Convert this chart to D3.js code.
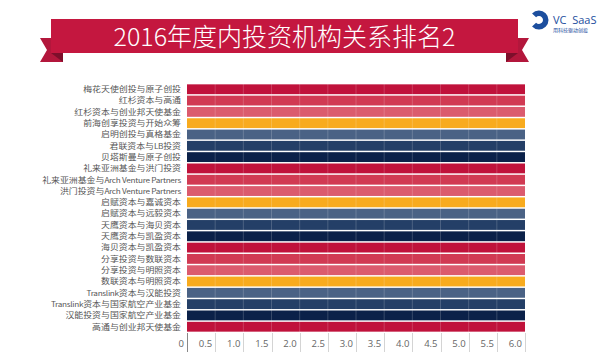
<!DOCTYPE html>
<html><head><meta charset="utf-8">
<script src="https://cdn.jsdelivr.net/npm/d3@7"></script>
<style>html,body{margin:0;padding:0;background:#fff;}svg{display:block;}</style>
</head><body>
<svg id="c" width="600" height="357"></svg>
<script>
const title = "2016年度内投资机构关系排名2";
const categories = [
  "梅花天使创投与原子创投","红杉资本与高通","红杉资本与创业邦天使基金","前海创享投资与开始众筹",
  "启明创投与真格基金","君联资本与LB投资","贝塔斯曼与原子创投","礼来亚洲基金与洪门投资",
  "礼来亚洲基金与Arch Venture Partners","洪门投资与Arch Venture Partners","启赋资本与嘉诚资本","启赋资本与远毅资本",
  "天鹰资本与海贝资本","天鹰资本与凯盈资本","海贝资本与凯盈资本","分享投资与数联资本",
  "分享投资与明照资本","数联资本与明照资本","Translink资本与汉能投资","Translink资本与国家航空产业基金",
  "汉能投资与国家航空产业基金","高通与创业邦天使基金"
];
const values = [6,6,6,6,6,6,6,6,6,6,6,6,6,6,6,6,6,6,6,6,6,6];
const palette = ["#c0123b","#d13a53","#db5b6e","#f8ab1e","#4a6285","#243f67","#0b2149"];
const tickValues = [0,0.5,1,1.5,2,2.5,3,3.5,4,4.5,5,5.5,6];
const tickLabels = ["0","0.5","1.0","1.5","2.0","2.5","3.0","3.5","4.0","4.5","5.0","5.5","6.0"];

const svg = d3.select("#c");
const x = d3.scaleLinear().domain([0,6]).range([187,525]);
const y = d3.scaleBand().domain(categories).range([84,332]).paddingInner(0.13).paddingOuter(0.03);

// Banner
const bannerG = svg.append("g");
const L = 51, R = 518, T = 19, B = 53;
bannerG.append("path").attr("d", `M${L-11},38 L${L+12},38 L${L+12},62 L${L-11},62 L${L-4},50 Z`).attr("fill","#b3173c");
bannerG.append("path").attr("d", `M${L},${B} L${L+12},${B} L${L+12},62 Z`).attr("fill","#7d0f2b");
bannerG.append("path").attr("d", `M${R+11},38 L${R-12},38 L${R-12},62 L${R+11},62 L${R+4},50 Z`).attr("fill","#b3173c");
bannerG.append("path").attr("d", `M${R},${B} L${R-12},${B} L${R-12},62 Z`).attr("fill","#7d0f2b");
bannerG.append("rect").attr("x",L).attr("y",T).attr("width",R-L).attr("height",B-T).attr("fill","#c4173f");
bannerG.append("text").attr("x",(L+R)/2).attr("y",45.5).attr("text-anchor","middle")
  .attr("font-family","'Noto Sans CJK SC',sans-serif").attr("font-size",25).attr("font-weight",300)
  .attr("fill","#fff").text(title);

// Logo
const logo = svg.append("g").attr("transform","translate(539,20)");
logo.append("path").attr("d", d3.arc().innerRadius(4).outerRadius(9.5).startAngle(0.75).endAngle(2*Math.PI-0.75)())
  .attr("transform","rotate(-90)").attr("fill","#1c4e9e");
svg.append("text").attr("x",553).attr("y",24).attr("font-family","'Open Sans',sans-serif").attr("font-size",11)
  .attr("fill","#1c4e9e").attr("xml:space","preserve").text("VC  SaaS");
svg.append("text").attr("x",553).attr("y",31.5).attr("font-family","'Noto Sans CJK SC',sans-serif").attr("font-size",5)
  .attr("fill","#1c4e9e").text("用科技驱动创投");

// Bars
svg.append("g").selectAll("rect").data(categories).join("rect")
  .attr("x", x(0)).attr("y", d => y(d))
  .attr("width", (d,i) => x(values[i]) - x(0))
  .attr("height", y.bandwidth())
  .attr("fill", (d,i) => palette[i % palette.length]);

// faint gridlines over bars
svg.append("g").selectAll("line").data(tickValues.slice(1,-1)).join("line")
  .attr("x1", d => x(d)).attr("x2", d => x(d)).attr("y1", 84).attr("y2", 332)
  .attr("stroke","#fff").attr("stroke-opacity",0.18).attr("stroke-width",1);

// Category labels
const sx = 1.17;
const labels = svg.append("g").selectAll("text").data(categories).join("text")
  .attr("transform", d => `translate(181,${y(d) + y.bandwidth()/2 + 2.8}) scale(${sx},1)`)
  .attr("text-anchor","end")
  .attr("font-family","'Liberation Sans Narrow','Noto Sans CJK SC',sans-serif")
  .attr("font-size",7.6).attr("fill","#555");
labels.each(function(d){
  const runs = d.match(/[\u3000-\u9fff]+|[^\u3000-\u9fff]+/g);
  const t = d3.select(this);
  runs.forEach(r => {
    const latin = !/[\u3000-\u9fff]/.test(r);
    const ts = t.append("tspan").text(r);
    if (latin) ts.attr("font-size",7).attr("letter-spacing",-0.25);
  });
});

// Axis
const ax = svg.append("g");
ax.append("line").attr("x1",x(0)+0.5).attr("x2",x(0)+0.5).attr("y1",333).attr("y2",352).attr("stroke","#888");
ax.selectAll("line.t").data(tickValues.slice(1)).join("line").attr("class","t")
  .attr("x1", d => Math.round(x(d))+0.5).attr("x2", d => Math.round(x(d))+0.5).attr("y1",333).attr("y2",352)
  .attr("stroke","#d4d4d4");
ax.selectAll("text").data(tickValues).join("text")
  .attr("x", d => x(d) - 3).attr("y", 346.5).attr("text-anchor","end")
  .attr("font-family","'Liberation Sans Narrow','Open Sans',sans-serif").attr("font-size",9.5).attr("fill","#666")
  .text((d,i) => tickLabels[i]);
</script>
</body></html>
